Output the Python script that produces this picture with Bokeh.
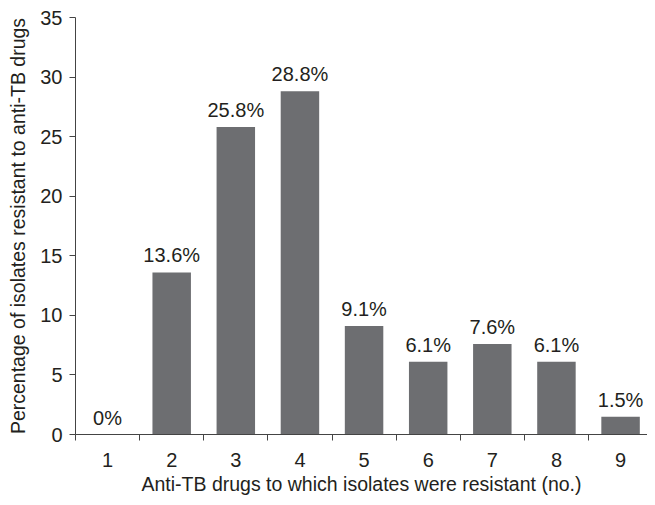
from bokeh.plotting import figure
from bokeh.models import ColumnDataSource, FixedTicker, Range1d
from bokeh.core.properties import value
from bokeh.embed import file_html
from bokeh.resources import INLINE

categories = [1, 2, 3, 4, 5, 6, 7, 8, 9]
percentages = [0, 13.6, 25.8, 28.8, 9.1, 6.1, 7.6, 6.1, 1.5]
bar_labels = ["0%", "13.6%", "25.8%", "28.8%", "9.1%", "6.1%", "7.6%", "6.1%", "1.5%"]
y_ticks = [0, 5, 10, 15, 20, 25, 30, 35]

FONT = "Liberation Sans"
TXT = "#231f20"

src = ColumnDataSource(dict(x=categories, top=percentages, label=bar_labels))

p = figure(width=647, height=497, output_backend="svg", toolbar_location=None,
           x_range=Range1d(0.5, 9.42), y_range=Range1d(0, 35),
           min_border_left=75, min_border_right=0, min_border_top=17, min_border_bottom=60)
p.outline_line_color = None
p.xgrid.visible = False
p.ygrid.visible = False
p.background_fill_color = "white"
p.border_fill_color = "white"

p.vbar(x="x", top="top", width=0.6, bottom=0, source=src, fill_color="#6d6e71", line_color=None)
p.text(x="x", y="top", text="label", source=src, text_align="center", text_baseline="bottom",
       y_offset=-6, text_font=value(FONT), text_font_size="20px", text_color=TXT)

p.xaxis.ticker = FixedTicker(ticks=categories, minor_ticks=[c - 0.5 for c in categories] + [9.5])
p.xaxis.major_tick_out = 0
p.xaxis.major_tick_in = 0
p.xaxis.minor_tick_out = 6
p.xaxis.minor_tick_in = 0
p.xaxis.minor_tick_line_color = "#444444"
p.yaxis.ticker = FixedTicker(ticks=y_ticks)
p.yaxis.major_tick_out = 6
p.yaxis.major_tick_in = 0
p.yaxis.minor_tick_line_color = None

for ax in (p.xaxis, p.yaxis):
    ax.axis_line_color = "#444444"
    ax.major_tick_line_color = "#444444"
    ax.major_label_text_font = FONT
    ax.major_label_text_font_size = "20px"
    ax.major_label_text_color = TXT
    ax.axis_label_text_font = FONT
    ax.axis_label_text_font_size = "19.5px"
    ax.axis_label_text_font_style = "normal"
    ax.axis_label_text_color = TXT

p.xaxis.axis_label = "Anti-TB drugs to which isolates were resistant (no.)"
p.yaxis.axis_label = "Percentage of isolates resistant to anti-TB drugs"
p.xaxis.major_label_standoff = 12
p.yaxis.major_label_standoff = 7
p.xaxis.axis_label_standoff = 3
p.yaxis.axis_label_standoff = 8

open("out.html", "w").write(file_html(p, INLINE))
